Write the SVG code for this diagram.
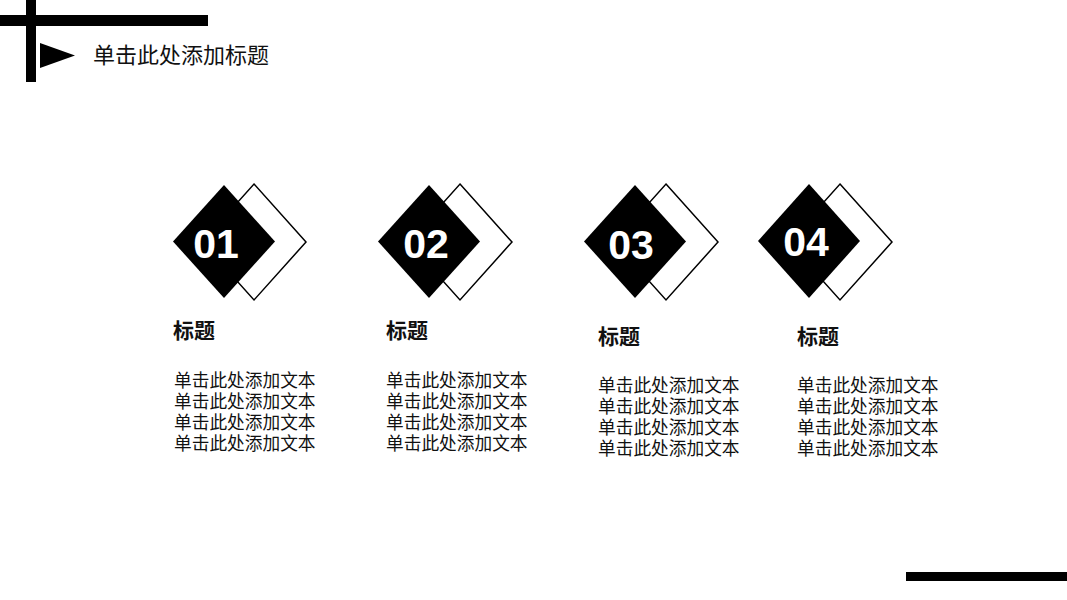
<svg xmlns="http://www.w3.org/2000/svg" width="1067" height="600" viewBox="0 0 1067 600">
<style>
.cjk{font-family:"Noto Sans CJK SC","Noto Sans",sans-serif;fill:#111}
.ttl{font-size:22px}
.h{font-size:21px;font-weight:bold}
.b{font-size:17.7px}
.num{font-family:"Liberation Sans","Noto Sans",sans-serif;font-weight:bold;font-size:41px;fill:#fff;text-anchor:middle}
.out{fill:#fff;stroke:#000;stroke-width:1.5}
.blk{fill:#000}
</style>
<rect width="1067" height="600" fill="#fff"/>
<g id="header">
<rect x="0" y="15" width="208" height="11" fill="#000"/>
<rect x="26" y="0" width="10" height="82" fill="#000"/>
<polygon points="40,43 75,55.5 40,68" fill="#000"/>
<text class="cjk ttl" x="93" y="63">单击此处添加标题</text>
</g>
<g id="node1">
<polygon class="out" points="254,184 306,242 254,300 202,242"/>
<polygon class="blk" points="224,185 275,241.5 224,298 173,241.5"/>
<text class="num" x="216" y="258">01</text>
<text class="cjk h" x="173" y="338">标题</text>
<text class="cjk b"><tspan x="174" y="387">单击此处添加文本</tspan><tspan x="174" y="408">单击此处添加文本</tspan><tspan x="174" y="429">单击此处添加文本</tspan><tspan x="174" y="450">单击此处添加文本</tspan></text>
</g>
<g id="node2">
<polygon class="out" points="460,184 512,242 460,300 408,242"/>
<polygon class="blk" points="429,185 480,241.5 429,298 378,241.5"/>
<text class="num" x="426" y="258">02</text>
<text class="cjk h" x="386" y="338">标题</text>
<text class="cjk b"><tspan x="386" y="387">单击此处添加文本</tspan><tspan x="386" y="408">单击此处添加文本</tspan><tspan x="386" y="429">单击此处添加文本</tspan><tspan x="386" y="450">单击此处添加文本</tspan></text>
</g>
<g id="node3">
<polygon class="out" points="666,184 718,242 666,300 614,242"/>
<polygon class="blk" points="635,185 686,241.5 635,298 584,241.5"/>
<text class="num" x="631" y="259">03</text>
<text class="cjk h" x="598" y="344">标题</text>
<text class="cjk b"><tspan x="598" y="392">单击此处添加文本</tspan><tspan x="598" y="413">单击此处添加文本</tspan><tspan x="598" y="434">单击此处添加文本</tspan><tspan x="598" y="455">单击此处添加文本</tspan></text>
</g>
<g id="node4">
<polygon class="out" points="840,184 892,242 840,300 788,242"/>
<polygon class="blk" points="809,184 860,241 809,298 758,241"/>
<text class="num" x="806" y="256">04</text>
<text class="cjk h" x="797" y="344">标题</text>
<text class="cjk b"><tspan x="797" y="392">单击此处添加文本</tspan><tspan x="797" y="413">单击此处添加文本</tspan><tspan x="797" y="434">单击此处添加文本</tspan><tspan x="797" y="455">单击此处添加文本</tspan></text>
</g>
<g id="connectors"></g>
<g id="footer">
<rect x="906" y="572" width="161" height="9" fill="#000"/>
</g>
</svg>
